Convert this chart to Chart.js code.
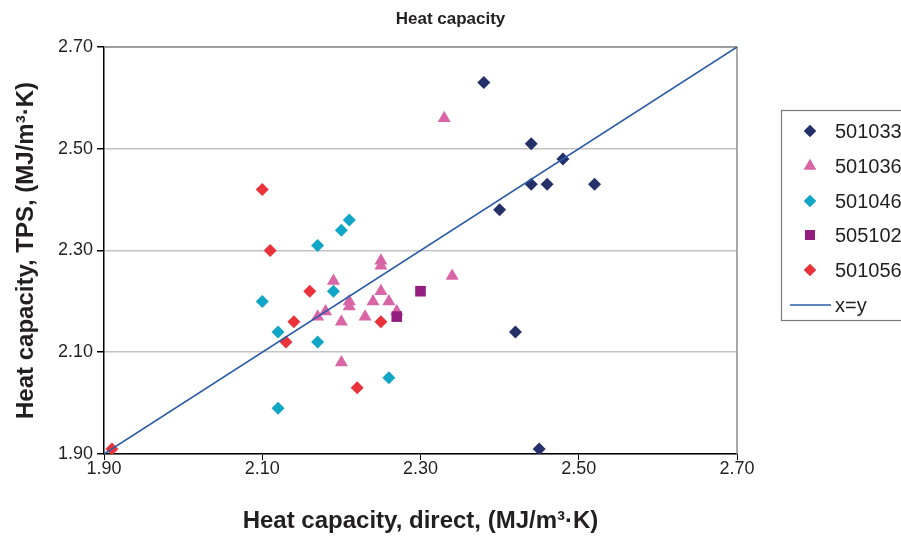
<!DOCTYPE html>
<html>
<head>
<meta charset="utf-8">
<title>Heat capacity</title>
<script src="https://cdn.jsdelivr.net/npm/chart.js@4.4.1/dist/chart.umd.min.js"></script>
<style>
  html, body { margin: 0; padding: 0; background: #fff; overflow: hidden; }
  #wrap { width: 901px; height: 538px; }
</style>
</head>
<body>
<div id="wrap"><canvas id="heatChart" width="901" height="538"></canvas></div>
<script>
// values, MJ/m3·K (direct on x, TPS on y)
const seriesNames = ['501033', '501036', '501046', '505102', '501056'];

const s501033X = [2.38, 2.44, 2.48, 2.44, 2.46, 2.52, 2.40, 2.42, 2.45];
const s501033Y = [2.63, 2.51, 2.48, 2.43, 2.43, 2.43, 2.38, 2.14, 1.91];

const s501036X = [2.33, 2.25, 2.25, 2.34, 2.19, 2.25, 2.21, 2.21, 2.24, 2.26, 2.18, 2.17, 2.27, 2.20, 2.23, 2.20];
const s501036Y = [2.56, 2.28, 2.27, 2.25, 2.24, 2.22, 2.20, 2.19, 2.20, 2.20, 2.18, 2.17, 2.18, 2.16, 2.17, 2.08];

const s501046X = [2.21, 2.20, 2.17, 2.19, 2.10, 2.12, 2.17, 2.26, 2.12];
const s501046Y = [2.36, 2.34, 2.31, 2.22, 2.20, 2.14, 2.12, 2.05, 1.99];

const s505102X = [2.30, 2.27];
const s505102Y = [2.22, 2.17];

const s501056X = [2.10, 2.11, 2.16, 2.14, 2.13, 2.25, 2.22, 1.91];
const s501056Y = [2.42, 2.30, 2.22, 2.16, 2.12, 2.16, 2.03, 1.91];

// x=y reference line
const lineX = [1.90, 2.70];
const lineY = [1.90, 2.70];

const tickValues = [1.90, 2.10, 2.30, 2.50, 2.70];

const FONT = '"Liberation Sans", Arial, sans-serif';
const TEXT = '#231f20';

function toPoints(xs, ys) {
  return xs.map((x, i) => ({ x: x, y: ys[i] }));
}

function markerSet(label, xs, ys, style, color, radius, order) {
  return {
    label: label,
    data: toPoints(xs, ys),
    showLine: false,
    pointStyle: style,
    pointRadius: radius,
    pointHoverRadius: radius,
    pointBackgroundColor: color,
    pointBorderColor: color,
    pointBorderWidth: 0,
    order: order
  };
}

const datasets = [
  markerSet(seriesNames[0], s501033X, s501033Y, 'rectRot', '#24306a', 6.5, 5),
  markerSet(seriesNames[1], s501036X, s501036Y, 'triangle', '#d964a6', 7.5, 4),
  markerSet(seriesNames[2], s501046X, s501046Y, 'rectRot', '#11a6c6', 6.5, 3),
  markerSet(seriesNames[3], s505102X, s505102Y, 'rect', '#951c7f', 7.5, 2),
  markerSet(seriesNames[4], s501056X, s501056Y, 'rectRot', '#e9323a', 6.5, 1),
  {
    label: 'x=y',
    data: toPoints(lineX, lineY),
    showLine: true,
    borderColor: '#2b5ba8',
    borderWidth: 1.6,
    pointRadius: 0,
    pointHoverRadius: 0,
    order: 0
  }
];

// gray frame on top and right of the plot
const frame = {
  id: 'frame',
  beforeDatasetsDraw(chart) {
    const a = chart.chartArea;
    const ctx = chart.ctx;
    ctx.save();
    ctx.strokeStyle = '#8d8d8d';
    ctx.lineWidth = 1.5;
    ctx.beginPath();
    ctx.moveTo(a.left, a.top);
    ctx.lineTo(a.right, a.top);
    ctx.lineTo(a.right, a.bottom);
    ctx.stroke();
    ctx.restore();
  }
};

// boxed legend at the right edge (runs off the canvas like the original)
const boxLegend = {
  id: 'boxLegend',
  afterDraw(chart) {
    const ctx = chart.ctx;
    const rows = [131, 166, 201, 235, 270, 305];
    ctx.save();
    ctx.fillStyle = '#fff';
    ctx.fillRect(781.5, 110.5, 200, 210);
    ctx.strokeStyle = '#7a7a7a';
    ctx.lineWidth = 1.2;
    ctx.strokeRect(781.5, 110.5, 200, 210);
    ctx.font = '20px ' + FONT;
    ctx.textBaseline = 'middle';
    chart.data.datasets.forEach((ds, i) => {
      const y = rows[i];
      if (ds.showLine) {
        ctx.strokeStyle = ds.borderColor;
        ctx.lineWidth = ds.borderWidth;
        ctx.beginPath();
        ctx.moveTo(790, y);
        ctx.lineTo(831, y);
        ctx.stroke();
      } else {
        ctx.fillStyle = ds.pointBackgroundColor;
        Chart.helpers.drawPoint(ctx, { pointStyle: ds.pointStyle, radius: ds.pointRadius - 0.5, rotation: 0, borderWidth: 0 }, 810, y);
        ctx.fill();
      }
      ctx.fillStyle = TEXT;
      ctx.fillText(ds.label, 835, y + 1);
    });
    ctx.restore();
  }
};

new Chart(document.getElementById('heatChart'), {
  type: 'scatter',
  data: { datasets: datasets },
  options: {
    responsive: false,
    animation: false,
    events: [],
    layout: { padding: 0 },
    plugins: {
      legend: { display: false },
      tooltip: { enabled: false },
      title: {
        display: true,
        text: 'Heat capacity',
        color: TEXT,
        font: { family: FONT, size: 17, weight: 'bold' },
        padding: { top: 9, bottom: 17.6 }
      }
    },
    scales: {
      x: {
        type: 'linear',
        min: 1.9,
        max: 2.7,
        afterBuildTicks: (s) => { s.ticks = tickValues.map(v => ({ value: v })); },
        afterFit: (s) => { s.height = 84; },
        ticks: {
          color: TEXT,
          font: { family: FONT, size: 18 },
          padding: -2,
          maxRotation: 0,
          callback: (v) => Number(v).toFixed(2)
        },
        grid: { drawOnChartArea: false, drawTicks: true, tickLength: 6, tickColor: '#000' },
        border: { color: '#000', width: 1.5 },
        title: {
          display: true,
          text: 'Heat capacity, direct, (MJ/m³·K)',
          color: TEXT,
          font: { family: FONT, size: 24, weight: 'bold' },
          padding: { top: 0, bottom: 2 }
        }
      },
      y: {
        type: 'linear',
        min: 1.9,
        max: 2.7,
        afterBuildTicks: (s) => { s.ticks = tickValues.map(v => ({ value: v })); },
        afterFit: (s) => { s.width = 104; },
        ticks: {
          color: TEXT,
          font: { family: FONT, size: 18 },
          padding: 4,
          callback: (v) => Number(v).toFixed(2)
        },
        grid: { color: '#c3c3c3', lineWidth: 1.5, drawTicks: true, tickLength: 7, tickColor: '#000' },
        border: { color: '#000', width: 1.5 },
        title: {
          display: true,
          text: 'Heat capacity, TPS, (MJ/m³·K)',
          color: TEXT,
          font: { family: FONT, size: 24, weight: 'bold' },
          padding: { top: 12, bottom: 0 }
        }
      },
      // empty axis that only reserves room for the legend on the right
      side: {
        type: 'linear',
        position: 'right',
        min: 0,
        max: 1,
        ticks: { display: false },
        grid: { display: false },
        border: { display: false },
        afterFit: (s) => { s.width = 164; }
      }
    }
  },
  plugins: [frame, boxLegend]
});
</script>
</body>
</html>
